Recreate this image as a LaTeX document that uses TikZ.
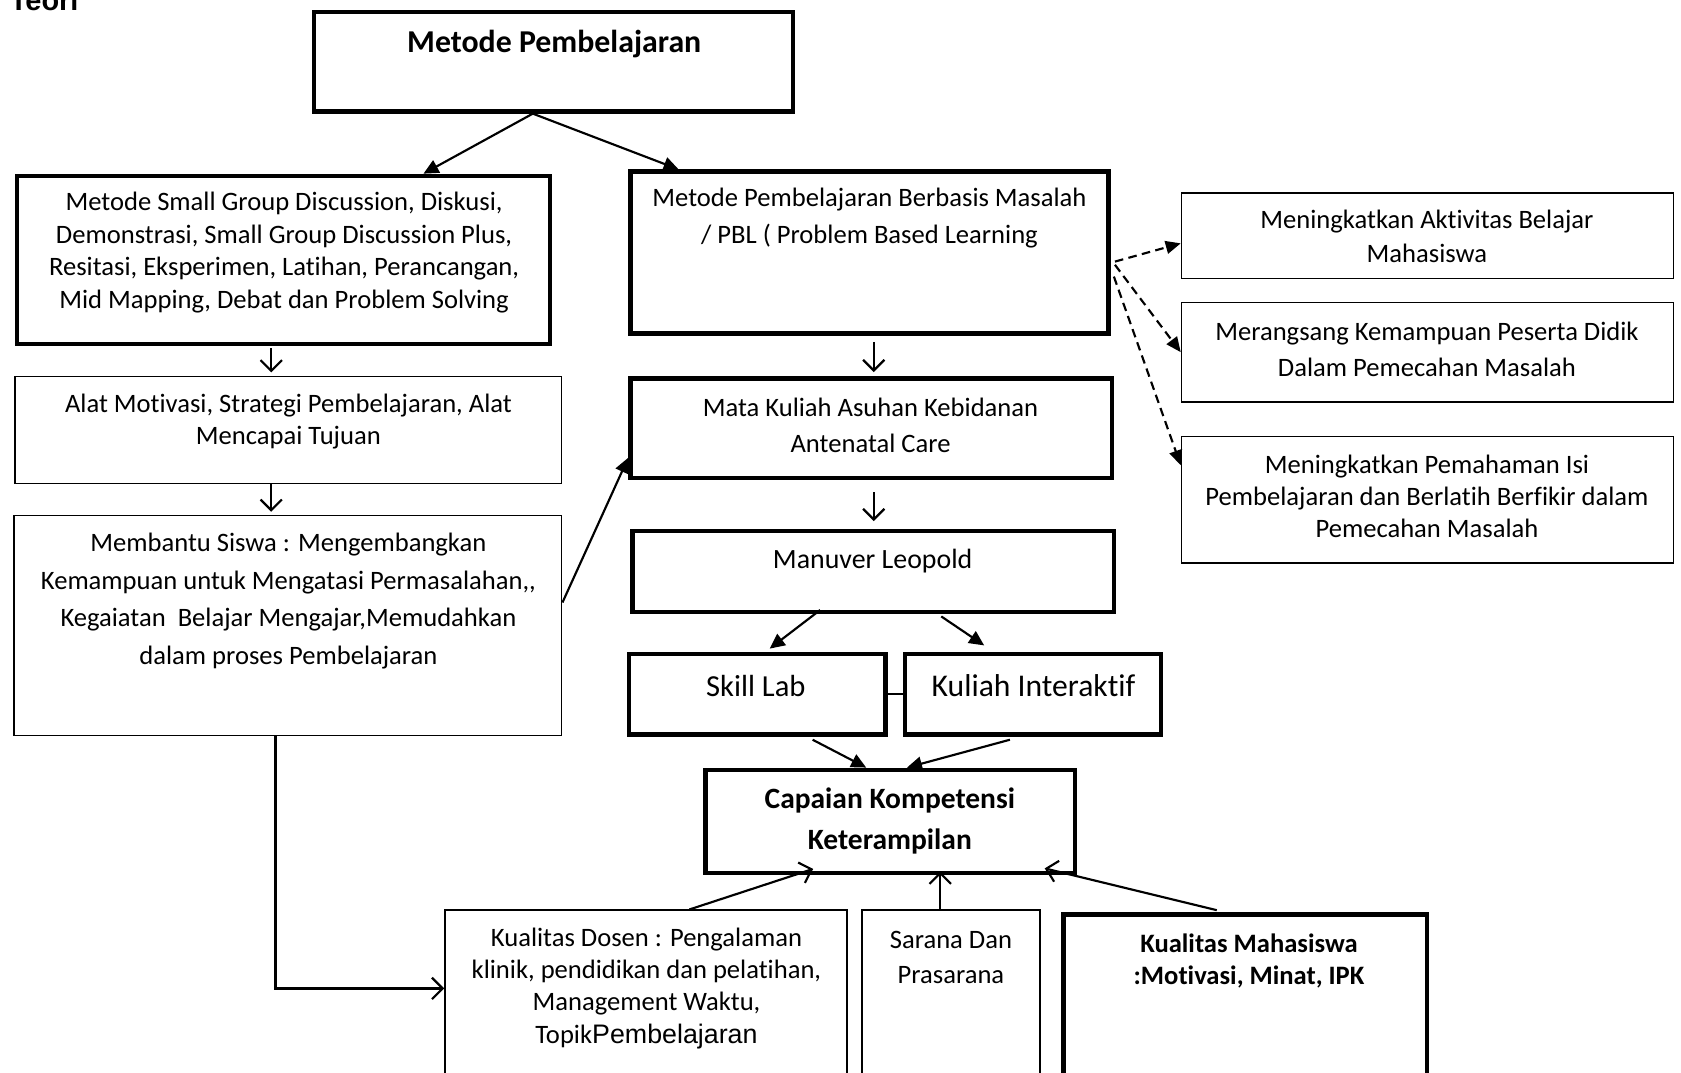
\documentclass[tikz,border=0pt]{standalone}
\usepackage{fontspec}
\defaultfontfeatures{}
\setmainfont{Carlito}[Ligatures={NoCommon}]
\newfontfamily\arialfont{Liberation Sans}[Ligatures={NoCommon}]
\usetikzlibrary{arrows.meta}
\newcommand\fsz[2]{\fontsize{#1}{#2}\selectfont}
\tikzset{
  heavybox/.style={draw, line width=4pt, inner sep=0pt, rectangle},
  lightbox/.style={draw, line width=1.3pt, inner sep=0pt, rectangle},
  txt/.style={align=center, inner sep=0pt, font=\fsz{24.8}{30}},
  solidtip/.style={line width=2pt, -{Triangle[length=14pt,width=13pt]}},
  opentip/.style={line width=2pt, -{Straight Barb[length=10pt,width=20pt,line width=2pt]}},
  dashtip/.style={line width=2pt, dash pattern=on 8pt off 5pt, -{Triangle[length=14pt,width=12pt]}},
}
\begin{document}
\begin{tikzpicture}[x=1pt, y=-1pt]
\clip (0,0) rectangle (1568,1000);
\fill[white] (0,0) rectangle (1568,1000);

% heading
\node[anchor=base west, inner sep=0pt, font=\arialfont\bfseries\fsz{27}{30}] (teori) at (9,9.5) {Teori};

% main column boxes
\node[heavybox, minimum width=447pt, minimum height=93pt] (mp) at (516.5,57.5) {};
\node[txt, font=\bfseries\fsz{29.7}{36}] (mpt) at (517,41) {Metode Pembelajaran};

\node[heavybox, minimum width=497pt, minimum height=157pt] (sgd) at (264.5,242.5) {};
\node[txt, font=\fsz{24.8}{30.3}] (sgdt) at (265,235.5) {Metode Small Group Discussion, Diskusi,\\Demonstrasi, Small Group Discussion Plus,\\Resitasi, Eksperimen, Latihan, Perancangan,\\Mid Mapping, Debat dan Problem Solving};

\node[lightbox, minimum width=510pt, minimum height=100pt] (alat) at (269,401) {};
\node[txt] (alatt) at (269,393) {Alat Motivasi, Strategi Pembelajaran, Alat\\Mencapai Tujuan};

\node[lightbox, minimum width=511pt, minimum height=205pt] (bantu) at (268.5,583.5) {};
\node[txt, font=\fsz{24.8}{35}] (bantut) at (269,560.5) {Membantu Siswa : Mengembangkan\\Kemampuan untuk Mengatasi Permasalahan,{},\\Kegaiatan\ \ Belajar Mengajar,Memudahkan\\dalam proses Pembelajaran};

\node[heavybox, minimum width=446pt, minimum height=151pt] (pbl) at (811,235.5) {};
\node[txt, font=\fsz{24.8}{35}] (pblt) at (811,203.5) {Metode Pembelajaran Berbasis Masalah\\/ PBL ( Problem Based Learning};

\node[heavybox, minimum width=449pt, minimum height=93pt] (mk) at (812.5,399.5) {};
\node[txt, font=\fsz{24.8}{34}] (mkt) at (812,397) {Mata Kuliah Asuhan Kebidanan\\Antenatal Care};

\node[heavybox, minimum width=449pt, minimum height=76pt] (leo) at (814.5,533) {};
\node[txt, font=\fsz{26}{30}] (leot) at (814,523) {Manuver Leopold};

\node[heavybox, minimum width=239pt, minimum height=75pt] (skill) at (706.5,647.5) {};
\node[txt, font=\fsz{28.5}{32}] (skillt) at (705,640) {Skill Lab};

\node[heavybox, minimum width=239pt, minimum height=75pt] (kul) at (963.5,647.5) {};
\node[txt, font=\fsz{29.5}{32}] (kult) at (964,640) {Kuliah Interaktif};

\node[heavybox, minimum width=345pt, minimum height=96pt] (cap) at (830.5,766) {};
\node[txt, font=\bfseries\fsz{27.5}{38}] (capt) at (830,766) {Capaian Kompetensi\\Keterampilan};

% factor boxes along the bottom
\node[lightbox, minimum width=375pt, minimum height=166pt] (dosen) at (602.5,932) {};
\node[txt] (dosent) at (603,922) {Kualitas Dosen : Pengalaman\\klinik, pendidikan dan pelatihan,\\Management Waktu,\\Topik{\arialfont\fsz{25}{30}Pembelajaran}};

\node[lightbox, minimum width=166pt, minimum height=166pt] (sarana) at (887,932) {};
\node[txt, font=\fsz{24.8}{32}] (saranat) at (887,893) {Sarana Dan\\Prasarana};

\node[heavybox, minimum width=339pt, minimum height=162pt] (mhs) at (1161.5,934) {};
\node[txt, font=\bfseries\fsz{24.8}{30}] (mhst) at (1165,896) {Kualitas Mahasiswa\\:Motivasi, Minat, IPK};

% outcome boxes on the right
\node[lightbox, minimum width=459pt, minimum height=80pt] (r1) at (1331.5,220) {};
\node[txt, font=\fsz{24.8}{31}] (r1t) at (1331,220.5) {Meningkatkan Aktivitas Belajar\\Mahasiswa};

\node[lightbox, minimum width=459pt, minimum height=93pt] (r2) at (1331.5,328.5) {};
\node[txt, font=\fsz{24.8}{34}] (r2t) at (1331,326) {Merangsang Kemampuan Peserta Didik\\Dalam Pemecahan Masalah};

\node[lightbox, minimum width=459pt, minimum height=118pt] (r3) at (1331.5,466) {};
\node[txt] (r3t) at (1331,463) {Meningkatkan Pemahaman Isi\\Pembelajaran dan Berlatih Berfikir dalam\\Pemecahan Masalah};

% connectors
\draw[solidtip] ([xshift=-19.5pt]mp.south) -- ([xshift=130.5pt]sgd.north);
\draw[solidtip] ([xshift=-19.5pt]mp.south) -- ([xshift=-178pt]pbl.north);

\draw[opentip, shorten <=2pt, shorten >=3pt] ([xshift=-11.5pt]sgd.south) -- ([xshift=-11.5pt]sgd.south |- alat.north);
\draw[opentip, shorten >=3pt] ([xshift=-16pt]alat.south) -- ([xshift=-16pt]alat.south |- bantu.north);
\draw[opentip] ([xshift=-11.5pt]bantu.south) |- ([yshift=10pt]dosen.west);
\draw[solidtip] ([yshift=21.5pt]bantu.east) -- ([yshift=-27.5pt]mk.west);

\draw[opentip, shorten <=6pt, shorten >=4pt] ([xshift=4pt]pbl.south) -- ([xshift=4pt]pbl.south |- mk.north);
\draw[opentip, shorten <=11pt, shorten >=7pt] ([xshift=2.5pt]mk.south) -- ([xshift=2.5pt]mk.south |- leo.north);

\draw[solidtip] ([xshift=-49.5pt, yshift=4pt]leo.south) -- ([xshift=11.5pt, yshift=3pt]skill.north);
\draw[solidtip] ([xshift=63.5pt, yshift=-2pt]leo.south) -- ([xshift=-45.5pt, yshift=6pt]kul.north);
\draw[line width=1.3pt] (skill.east) -- (kul.west);

\draw[solidtip] ([xshift=51.5pt, yshift=-3pt]skill.south) -- ([xshift=-22.5pt]cap.north);
\draw[solidtip] ([xshift=-21.5pt, yshift=-3pt]kul.south) -- ([xshift=15.5pt]cap.north);

\draw[opentip] ([xshift=40.5pt]dosen.north) -- ([xshift=-72pt, yshift=5.5pt]cap.south);
\draw[opentip] ([xshift=-10pt]sarana.north) -- ([xshift=46.5pt, yshift=3pt]cap.south);
\draw[opentip] ([xshift=-26.5pt, yshift=2pt]mhs.north) -- ([xshift=144pt, yshift=6pt]cap.south);

\draw[dashtip] ([xshift=4pt, yshift=-8.5pt]pbl.east) -- ([yshift=-7pt]r1.west);
\draw[dashtip] ([xshift=4pt, yshift=-11.5pt]pbl.east) -- (r2.west);
\draw[dashtip] ([xshift=3pt, yshift=-22.5pt]pbl.east) -- ([yshift=32pt]r3.west);
\end{tikzpicture}
\end{document}
